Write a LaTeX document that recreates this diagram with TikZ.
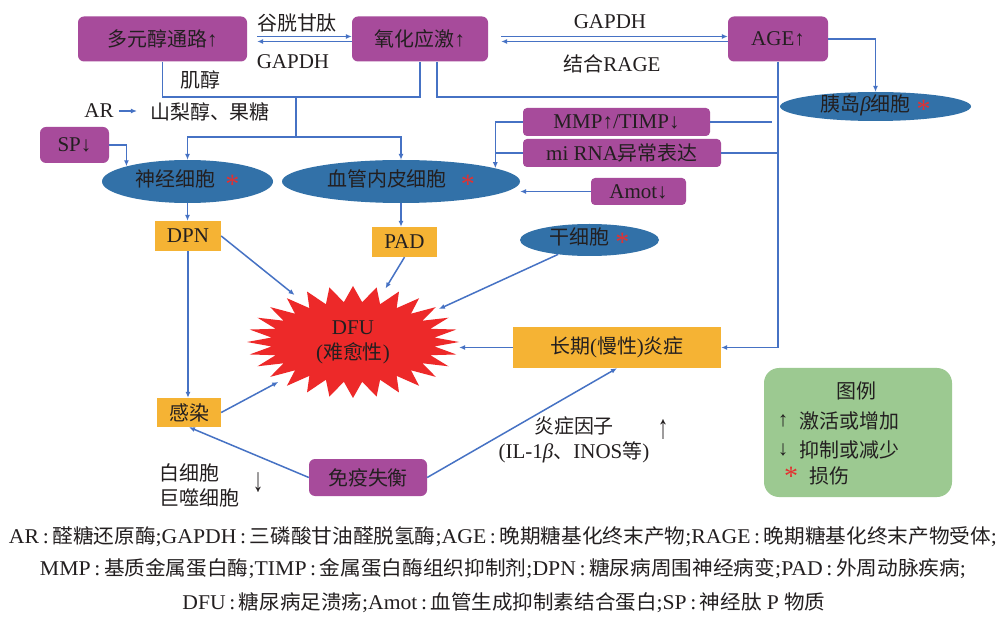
\documentclass[tikz,border=0pt]{standalone}
\usepackage{fontspec}
\usepackage{graphicx}
\setmainfont{Liberation Serif}
\newfontfamily\zhfont[Scale=0.95]{Noto Sans CJK SC}
\newcommand{\zh}[1]{{\zhfont #1}}
\usetikzlibrary{arrows.meta,shapes.geometric,calc}
\definecolor{purp}{RGB}{167,75,155}
\definecolor{eblue}{RGB}{50,113,168}
\definecolor{orng}{RGB}{245,179,52}
\definecolor{lblue}{RGB}{70,114,196}
\definecolor{dfured}{RGB}{237,41,41}
\definecolor{lgreen}{RGB}{156,201,145}
\definecolor{starred}{RGB}{228,48,48}
\definecolor{txt}{RGB}{35,31,32}
\newcommand{\rs}{{\color{starred}\raisebox{-7pt}{\fontsize{28}{28}\selectfont *}}}
\newcommand{\capfont}{\fontsize{21}{23}\selectfont}
\newcommand{\cc}{\,:\,}
\newcommand{\cs}{;}
\tikzset{
  pbox/.style={fill=purp, rounded corners=6pt, text=txt, inner sep=0pt},
  obox/.style={fill=orng, text=txt, inner sep=0pt},
  ell/.style={ellipse, fill=eblue, text=txt, inner sep=0pt, text height=14pt, text depth=4pt},
  lbl/.style={inner sep=0pt, text=txt},
  line/.style={draw=lblue, line width=1.5pt},
  arr/.style={line, -{Latex[length=6pt,width=5pt]}},
}
\begin{document}
\begin{tikzpicture}[x=1pt,y=-1pt,font=\fontsize{21}{25}\selectfont]
\useasboundingbox (0,0) rectangle (1001,617);
\fill[white] (0,0) rectangle (1001,617);

% top boxes
\node[pbox, minimum width=169pt, minimum height=45pt] (duoyuan) at (162.5,39) {\zh{多元醇通路}↑};
\node[pbox, minimum width=136pt, minimum height=45pt] (yanghua) at (420,39) {\zh{氧化应激}↑};
\node[pbox, minimum width=100pt, minimum height=45pt] (age) at (778,39) {AGE↑};
\node[ell, minimum width=191pt, minimum height=29pt] (yidao) at (875.5,106.5) {\zh{胰岛}\textit{β}\zh{细胞}\hspace{6pt}\rs};

% middle boxes
\node[pbox, rounded corners=4pt, minimum width=187pt, minimum height=28pt] (mmp) at (616.5,122) {MMP↑/TIMP↓};
\node[pbox, rounded corners=4pt, minimum width=198pt, minimum height=28pt] (mirna) at (622,153) {mi RNA\zh{异常表达}};
\node[pbox, rounded corners=4pt, minimum width=95pt, minimum height=27pt] (amot) at (638.5,191.5) {Amot↓};
\node[pbox, minimum width=69pt, minimum height=36pt] (sp) at (74.5,145) {SP↓};

\node[ell, minimum width=171pt, minimum height=43pt] (shenjing) at (187.5,181.5) {\zh{神经细胞}\hspace{10pt}\rs};
\node[ell, minimum width=238pt, minimum height=43pt] (xueguan) at (401,181.5) {\zh{血管内皮细胞}\hspace{14pt}\rs};
\node[ell, minimum width=139pt, minimum height=32pt] (ganxi) at (589.5,240) {\zh{干细胞}\hspace{6pt}\rs};

\node[obox, minimum width=66pt, minimum height=30pt] (dpn) at (188,236) {DPN};
\node[obox, minimum width=65pt, minimum height=30pt] (pad) at (404.5,242) {PAD};

% DFU starburst
\fill[dfured] plot[samples=57, domain=0:56]
  ({353+(94+12*cos(180*\x))*cos(360/56*\x)}, {342+(48+8*cos(180*\x))*sin(360/56*\x)}) -- cycle;
\node[ellipse, inner sep=0pt, minimum width=212pt, minimum height=112pt, text=txt, align=center] (dfu) at (353,342) {DFU\\(\zh{难愈性})};

\node[obox, minimum width=208pt, minimum height=41pt] (yanzheng) at (617,347.5) {\zh{长期}(\zh{慢性})\zh{炎症}};
\node[obox, minimum width=64pt, minimum height=29pt] (ganran) at (189,412.5) {\zh{感染}};
\node[pbox, minimum width=118pt, minimum height=37pt] (mianyi) at (368,477.5) {\zh{免疫失衡}};

% labels
\node[lbl] (gugan) at (297,23) {\zh{谷胱甘肽}};
\node[lbl] (gapdh1) at (293,62) {GAPDH};
\node[lbl] (gapdh2) at (610,22) {GAPDH};
\node[lbl] (rage) at (612,64) {\zh{结合}RAGE};
\node[lbl] (jichun) at (200,80) {\zh{肌醇}};
\node[lbl] (ar) at (99,111) {AR};
\node[lbl] (shanli) at (210,112) {\zh{山梨醇、果糖}};
\node[lbl, align=center] (yinzi) at (574,440) {\zh{炎症因子}\\(IL-1\textit{β}\zh{、}INOS\zh{等})};
\node[lbl] (upar) at (663,430) {\scalebox{1}[1.6]{↑}};
\node[lbl, align=left, anchor=west] (bai) at (159,485) {\zh{白细胞}\\\zh{巨噬细胞}};
\node[lbl] (downar) at (258,483) {\scalebox{1}[1.6]{↓}};

% legend
\node[fill=lgreen, rounded corners=15pt, minimum width=188pt, minimum height=129pt, inner sep=0pt] (legend) at (858,432.5) {};
\node[lbl] (lgt) at (856,391) {\zh{图例}};
\node[lbl] (lg1a) at (783,421) {↑};
\node[lbl, anchor=west] (lg1b) at (799,421) {\zh{激活或增加}};
\node[lbl] (lg2a) at (783,450) {↓};
\node[lbl, anchor=west] (lg2b) at (799,450) {\zh{抑制或减少}};
\node[lbl] (lg3a) at (791,476) {\rs};
\node[lbl, anchor=west] (lg3b) at (809,476) {\zh{损伤}};

% caption
\node[lbl] (cap1) at (503,537) {\resizebox{988pt}{\height}{\capfont AR\cc\zh{醛糖还原酶}\cs GAPDH\cc\zh{三磷酸甘油醛脱氢酶}\cs AGE\cc\zh{晚期糖基化终末产物}\cs RAGE\cc\zh{晚期糖基化终末产物受体}\cs}};
\node[lbl] (cap2) at (503,569) {\resizebox{926pt}{\height}{\capfont MMP\cc\zh{基质金属蛋白酶}\cs TIMP\cc\zh{金属蛋白酶组织抑制剂}\cs DPN\cc\zh{糖尿病周围神经病变}\cs PAD\cc\zh{外周动脉疾病}\cs}};
\node[lbl] (cap3) at (504,603) {\resizebox{643pt}{\height}{\capfont DFU\cc\zh{糖尿病足溃疡}\cs Amot\cc\zh{血管生成抑制素结合蛋白}\cs SP\cc\zh{神经肽} P \zh{物质}}};

% connectors
\coordinate (j1) at (296,97);
\coordinate (j2) at (296,137);
\draw[arr] ([xshift=10pt,yshift=2.5pt]duoyuan.east) -- ([yshift=2.5pt]yanghua.west);
\draw[arr] ([yshift=-2.5pt]yanghua.west) -- ([xshift=10pt,yshift=-2.5pt]duoyuan.east);
\draw[arr] ([xshift=13pt,yshift=2.5pt]yanghua.east) -- ([yshift=2.5pt]age.west);
\draw[arr] ([yshift=-2.5pt]age.west) -- ([xshift=13pt,yshift=-2.5pt]yanghua.east);

\draw[line] (duoyuan.south) |- (j1) -| (yanghua.south);
\draw[line] (j1) -- (j2);
\draw[arr] (j2) -| (shenjing.north);
\draw[arr] (j2) -| (xueguan.north);
\draw[line] ([xshift=17pt]yanghua.south) |- (j1 -| age.south);
\draw[arr] (age.south) |- (yanzheng.east);
\draw[arr] (age.east) -| (yidao.north);

\draw[line, shorten >=6pt] (mmp.east) -- (mmp.east -| age.south);
\draw[line] (mirna.east) -- (mirna.east -| age.south);
\draw[arr] (mmp.west) -| (xueguan.8);
\draw[line] (mirna.west) -- (mirna.west -| xueguan.8);
\draw[arr] (amot.west) -- (amot.west -| xueguan.east);

\draw[arr, shorten <=5pt, shorten >=13pt] (ar.east) -- (ar.east -| shanli.west);

\draw[arr] (sp.east) -| (shenjing.166);
\draw[arr] (shenjing.south) -- (shenjing.south |- dpn.north);
\draw[arr] (xueguan.south) -- (xueguan.south |- pad.north);
\draw[arr] (dpn.south) -- (dpn.south |- ganran.north);
\draw[arr] (dpn.east) -- (dfu);
\draw[arr] (pad.south) -- (dfu);
\draw[arr] (ganxi) -- (dfu.21);
\draw[arr] (ganran.east) -- (dfu);
\draw[arr] (yanzheng.west) -- (yanzheng.west -| dfu.east);
\draw[arr] (mianyi.west) -- (ganran.south);
\draw[arr] (mianyi.east) -- (yanzheng.south);
\end{tikzpicture}
\end{document}
